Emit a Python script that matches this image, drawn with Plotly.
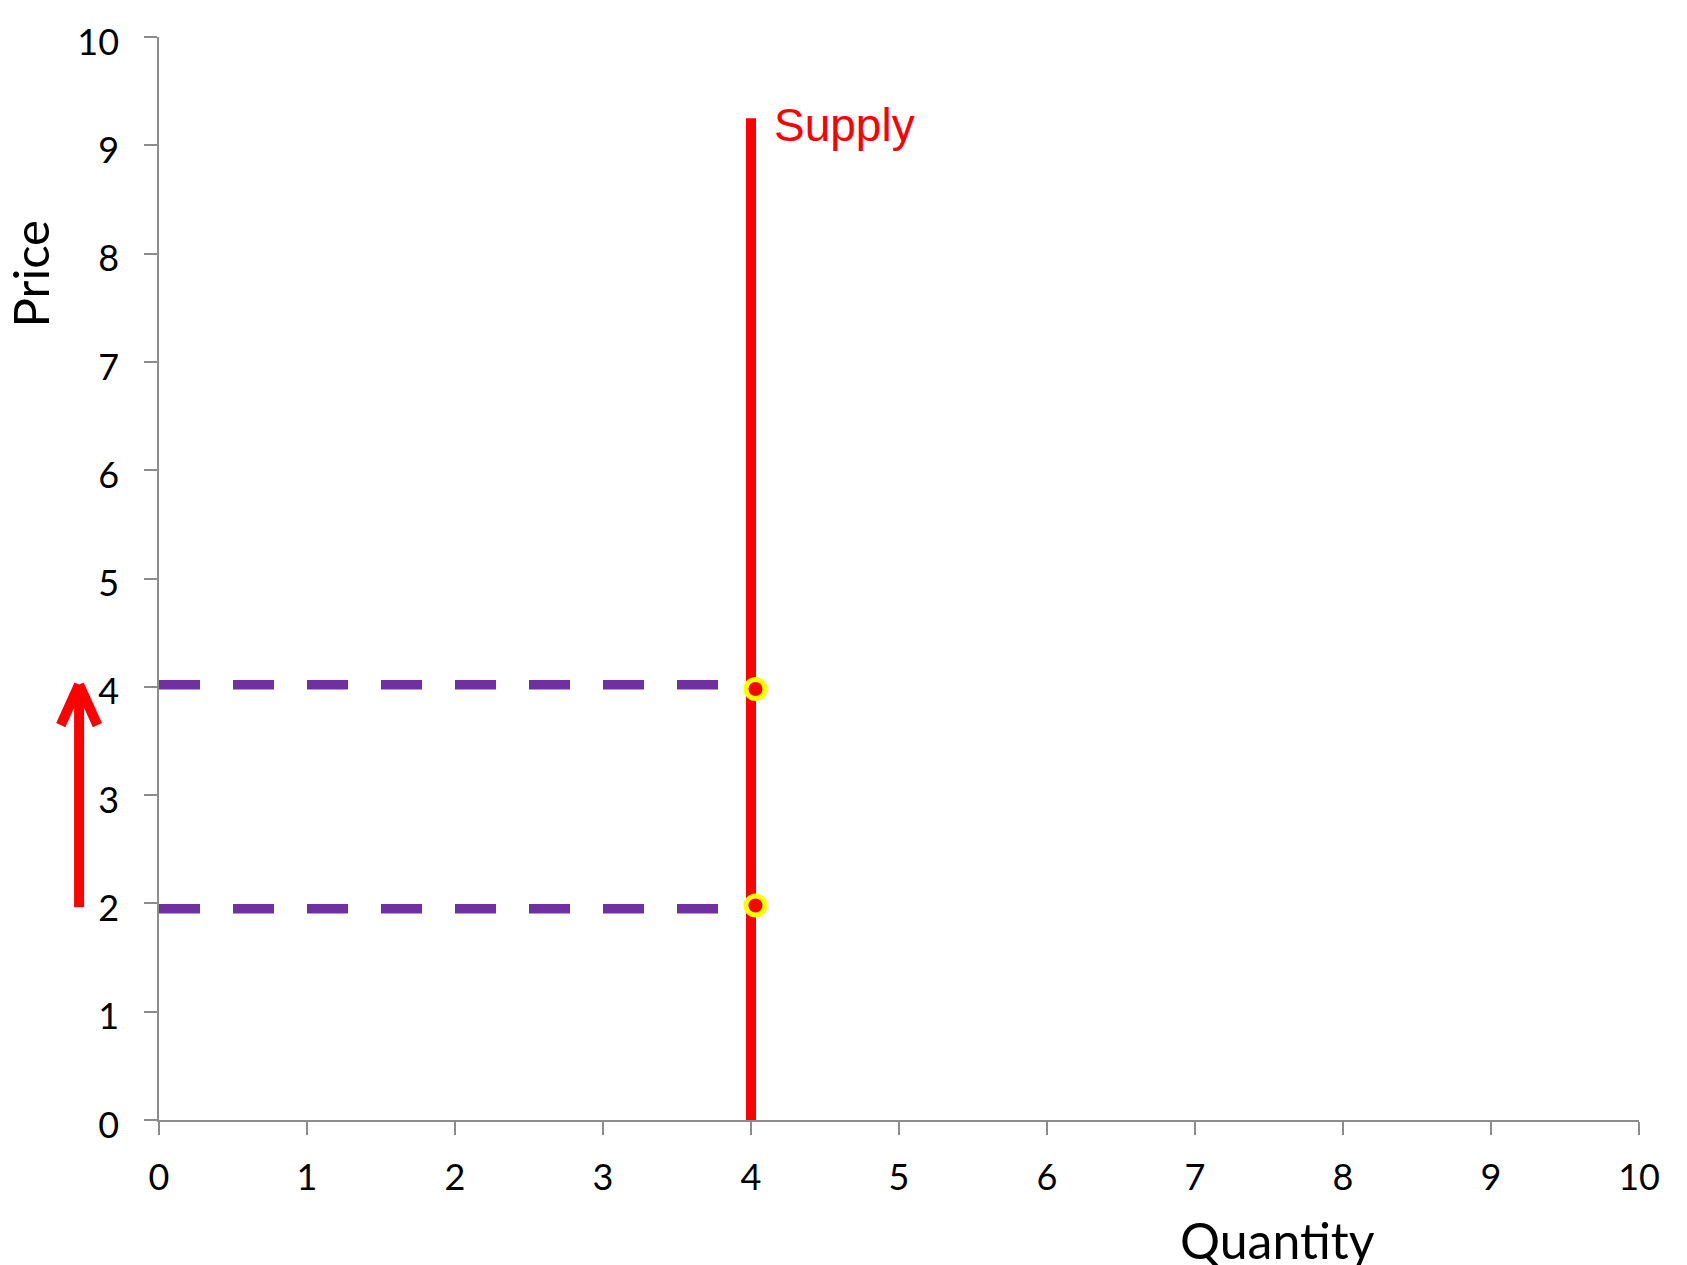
import plotly.graph_objects as go

# ---- data ----
quantity_ticks = [0, 1, 2, 3, 4, 5, 6, 7, 8, 9, 10]
price_ticks = [0, 1, 2, 3, 4, 5, 6, 7, 8, 9, 10]

supply_q = [4, 4]
supply_p = [0, 9.25]

old_price = 1.95
new_price = 4.02
price_line_q = [0, 4]

point_q = [4.03, 4.03]
point_p = [1.98, 3.98]

arrow_q = -0.54
arrow_from = 1.95
arrow_to = 4.02

x_range = [0, 10]
y_range = [0, 10]

PURPLE = "#7030A0"
RED = "#FF0000"
GRAY = "#8c8c8c"
TICKFONT = dict(family="Lato, 'Open Sans', sans-serif", size=36, color="black")

fig = go.Figure()

for p in (old_price, new_price):
    fig.add_trace(go.Scatter(
        x=price_line_q, y=[p, p], mode="lines",
        line=dict(color=PURPLE, width=9.5, dash="41px,33px"),
        hoverinfo="skip", showlegend=False))

fig.add_trace(go.Scatter(
    x=supply_q, y=supply_p, mode="lines",
    line=dict(color=RED, width=10), showlegend=False))

fig.add_trace(go.Scatter(
    x=point_q, y=point_p, mode="markers",
    marker=dict(size=19, color=RED, line=dict(color="#FFFF00", width=5)),
    cliponaxis=False, showlegend=False))

x_frac = (arrow_q - x_range[0]) / (x_range[1] - x_range[0])

annotations = [
    dict(text="Supply", x=supply_q[1] + 0.145, y=supply_p[1] - 0.06, xref="x", yref="y",
         xanchor="left", yanchor="middle", showarrow=False,
         font=dict(family="Liberation Sans, Arial, sans-serif", size=46, color=RED)),
    dict(text="Price", x=-0.087, y=0.781, xref="paper", yref="paper",
         textangle=-90, showarrow=False, xanchor="center", yanchor="middle",
         font=dict(family="Lato, 'Open Sans', sans-serif", size=49, color="black")),
    dict(text="Quantity", x=0.756, y=-0.111, xref="paper", yref="paper",
         showarrow=False, xanchor="center", yanchor="middle",
         font=dict(family="Lato, 'Open Sans', sans-serif", size=50, color="black")),
    # arrow shaft
    dict(text="", x=x_frac, y=arrow_to, xref="paper", yref="y",
         ax=0, ay=arrow_from, axref="pixel", ayref="y",
         showarrow=True, arrowhead=0, arrowwidth=10, arrowcolor=RED, standoff=0,
         font=dict(size=1)),
    # arrow head arms
    dict(text="", x=x_frac, y=arrow_to, xref="paper", yref="y",
         ax=-19, ay=42, showarrow=True, arrowhead=0, arrowwidth=10,
         arrowcolor=RED, standoff=0, font=dict(size=1)),
    dict(text="", x=x_frac, y=arrow_to, xref="paper", yref="y",
         ax=19, ay=42, showarrow=True, arrowhead=0, arrowwidth=10,
         arrowcolor=RED, standoff=0, font=dict(size=1)),
]

fig.update_layout(
    width=1687, height=1265,
    margin=dict(l=159, r=48, t=37, b=145),
    paper_bgcolor="white", plot_bgcolor="white",
    showlegend=False,
    hovermode=False,
    annotations=annotations,
    xaxis=dict(range=x_range, tickvals=quantity_ticks, ticktext=[str(v) for v in quantity_ticks],
               showgrid=False, zeroline=False, showline=True, linecolor=GRAY, linewidth=1.5,
               ticks="outside", ticklen=13, tickcolor=GRAY, tickwidth=1.5,
               tickfont=TICKFONT, ticklabelstandoff=12, fixedrange=True),
    yaxis=dict(range=y_range, tickvals=price_ticks, ticktext=[str(v) for v in price_ticks],
               showgrid=False, zeroline=False, showline=True, linecolor=GRAY, linewidth=1.5,
               ticks="outside", ticklen=13, tickcolor=GRAY, tickwidth=1.5,
               tickfont=TICKFONT, ticklabelstandoff=18, ticklabelshift=5, fixedrange=True),
)

fig.write_html("out.html",
               config={"displayModeBar": False},
               post_script="document.body.style.margin='0';document.body.style.overflow='hidden';")
